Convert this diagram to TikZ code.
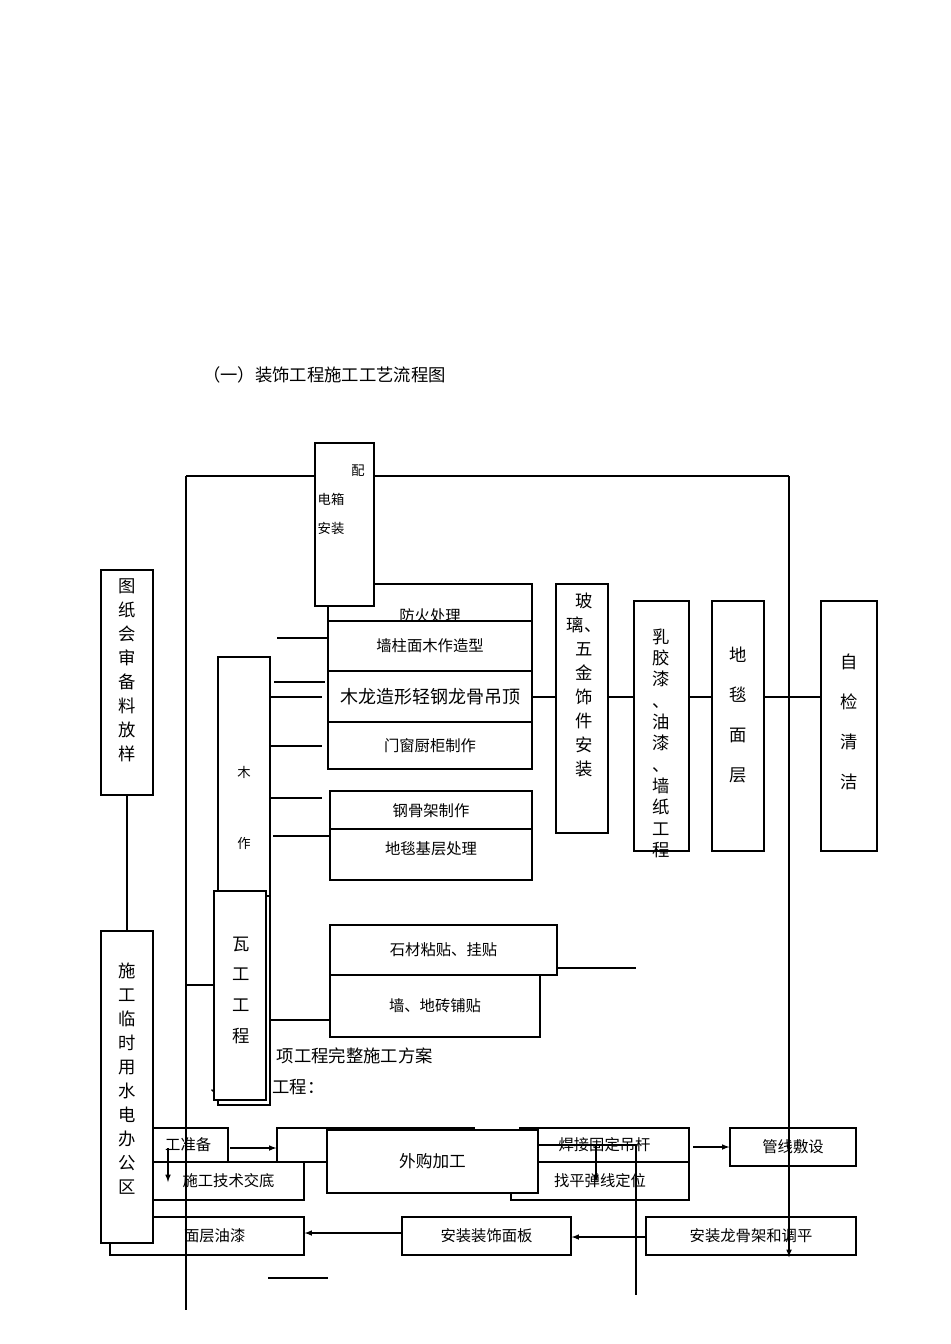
\documentclass[tikz,border=0pt]{standalone}
\usepackage{fontspec}
\setmainfont{Noto Sans CJK SC}
\begin{document}
\begin{tikzpicture}[x=0.75pt,y=-0.75pt,line width=0.9pt,
  bx/.style={draw,fill=white,inner sep=0pt,font=\fontsize{11.5}{13}\selectfont},
  vt/.style={anchor=north,align=center,inner sep=0pt},
  arr/.style={-latex}]
\useasboundingbox[fill=white] (0,0) rectangle (950,1344);
\newcommand\bx[7][]{\node[bx,#1,minimum width={(#5-#3)*0.75pt},minimum height={(#6-#4)*0.75pt}] (#2) at ({(#3+#5)/2},{(#4+#6)/2}) {#7};}
\node[anchor=west,font=\fontsize{13}{15}\selectfont] (title) at (198,375) {（一）装饰工程施工工艺流程图};
% long loop lines
\coordinate (la) at (186,476); \coordinate (lb) at (186,1310);
\coordinate (ra) at (789,476); \coordinate (rb) at (789,1257);
\draw (la) -- (lb); \draw[arr] (ra) -- (rb); \draw (la) -- (ra);
% left column
\bx{tz}{101}{570}{153}{795}{}
\node[vt,font=\fontsize{13}{18}\selectfont] (tzt) at (127,578) {图\\纸\\会\\审\\备\\料\\放\\样};
\bx{sg}{101}{931}{153}{1243}{}
\node[vt,font=\fontsize{13}{18}\selectfont] (sgt) at (127,962) {施\\工\\临\\时\\用\\水\\电\\办\\公\\区};
\draw (tz) -- (sg);
% 木作
\bx{mz}{218}{657}{270}{1105}{}
\node (mzt1) at (244,772) {木};
\node (mzt2) at (244,843) {作};
% fire box
\bx[text depth=0pt]{fh}{328}{584}{532}{622}{\raisebox{-14pt}{防火处理}}
\bx{pd}{315}{443}{374}{606}{}
\node (pd1) at (358,471) {配};
\node (pd2) at (331,499) {电箱};
\node (pd3) at (331,528) {安装};
\bx{qz}{328}{621}{532}{671}{墙柱面木作造型}
\bx[font=\fontsize{13.5}{15}\selectfont]{ml}{328}{671}{532}{722}{木龙造形轻钢龙骨吊顶}
\bx{mc}{328}{722}{532}{769}{门窗厨柜制作}
\bx{gg}{330}{791}{532}{829}{\raisebox{-10pt}{钢骨架制作}}
\bx{dt}{330}{829}{532}{880}{\raisebox{10pt}{地毯基层处理}}
\foreach \yy/\xa/\xb in {638/277/328,682/274/325,697/270/322,746/270/322,798/270/322,836/273/330,1020/270/330}
  {\draw (\xa,\yy) -- (\xb,\yy);}
% 瓦工
\bx{wg}{214}{891}{266}{1100}{}
\node[vt,font=\fontsize{13}{23}\selectfont] (wgt) at (241,936) {瓦\\工\\工\\程};
\draw (186,985) -- (214,985);
\bx{sc}{330}{925}{557}{975}{石材粘贴、挂贴}
\bx{qd}{330}{975}{540}{1037}{墙、地砖铺贴}
\draw (557,968) -- (636,968);
% right columns
\bx{bl}{556}{584}{608}{833}{}
\node[vt,font=\fontsize{13}{18}\selectfont] (blt) at (584,592) {玻\\璃、\\五\\金\\饰\\件\\安\\装};
\bx{rj}{634}{601}{689}{851}{}
\node[vt,font=\fontsize{13}{16}\selectfont] (rjt) at (661,628) {乳\\胶\\漆\\、\\油\\漆\\、\\墙\\纸\\工\\程};
\bx{dm}{712}{601}{764}{851}{}
\node[vt,font=\fontsize{13}{30}\selectfont] (dmt) at (738,646) {地\\毯\\面\\层};
\bx{zj}{821}{601}{877}{851}{}
\node[vt,font=\fontsize{13}{30}\selectfont] (zjt) at (849,653) {自\\检\\清\\洁};
\draw (532,697) -- (bl.west|-0,697);
\draw (bl.east|-0,697) -- (rj.west|-0,697);
\draw (rj.east|-0,697) -- (dm.west|-0,697);
\draw (dm.east|-0,697) -- (zj.west|-0,697);
% text under
\node[anchor=west,font=\fontsize{13}{15}\selectfont] (t1) at (199,1056) {（\hspace{3.2em}项工程完整施工方案};
\node[anchor=west,font=\fontsize{13}{15}\selectfont] (t2) at (205,1087) {、\hspace{2.6em}工程：};
\bx{wg2}{218}{896}{270}{1105}{}
\bx{wg3}{214}{891}{266}{1100}{}
\node[vt,font=\fontsize{13}{23}\selectfont] (wgt2) at (241,936) {瓦\\工\\工\\程};
% bottom
\bx{gz}{110}{1128}{228}{1162}{\hspace{2.5em}工准备}
\bx{zh}{277}{1128}{474}{1162}{}
\bx{jd}{130}{1162}{304}{1200}{\hspace{1.5em}施工技术交底}
\bx{hj}{520}{1128}{689}{1162}{焊接固定吊杆}
\bx{zp}{511}{1162}{689}{1200}{找平弹线定位}
\bx[font=\fontsize{12.5}{14}\selectfont]{wgj}{327}{1130}{538}{1193}{外购加工}
\bx{gx}{730}{1128}{856}{1166}{管线敷设}
\bx{mq}{110}{1217}{304}{1255}{\hspace{1em}面层油漆}
\bx{az}{402}{1217}{571}{1255}{安装装饰面板}
\bx{al}{646}{1217}{856}{1255}{安装龙骨架和调平}
\bx{sg2}{101}{931}{153}{1243}{}
\node[vt,font=\fontsize{13}{18}\selectfont] (sgt2) at (127,962) {施\\工\\临\\时\\用\\水\\电\\办\\公\\区};
\draw[arr] (230,1148) -- (zh.west|-0,1148);
\draw[arr] (693,1147) -- (gx.west|-0,1147);
\draw[arr] (az.west|-0,1233) -- (mq.east|-0,1233);
\draw[arr] (al.west|-0,1237) -- (az.east|-0,1237);
\draw[arr] (168,1148) -- (168,1182);
\draw[arr] (596,1145) -- (596,1182);
\draw (538,1145) -- (636,1145) -- (636,1295);
\draw (268,1278) -- (328,1278);
\draw (la) -- (lb); \draw[arr] (ra) -- (rb);
\end{tikzpicture}
\end{document}
